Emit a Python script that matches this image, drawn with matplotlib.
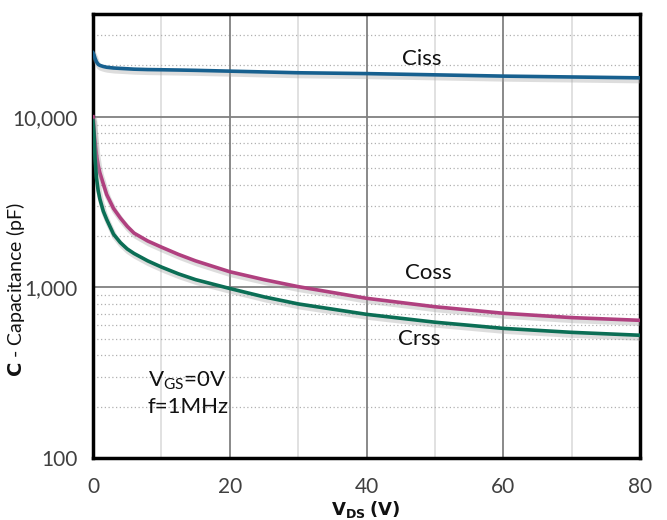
import matplotlib
matplotlib.use("Agg")
import matplotlib.pyplot as plt
import matplotlib.patheffects as pe
from matplotlib.ticker import FixedLocator, NullFormatter

vds = [0, 0.15, 0.3, 0.5, 0.75, 1, 1.5, 2, 3, 4, 5, 6, 8, 10, 12.5, 15,
       20, 25, 30, 40, 50, 60, 70, 80]
ciss = [23700, 23000, 22000, 21000, 20300, 20000, 19700, 19500, 19300, 19200,
        19100, 19000, 18900, 18850, 18780, 18700, 18500, 18300, 18100, 17900,
        17600, 17300, 17100, 16900]
coss = [10000, 8200, 7100, 6000, 5200, 4700, 4050, 3500, 2900, 2550,
        2280, 2080, 1870, 1722, 1560, 1430, 1235, 1110, 1010, 863,
        770, 705, 665, 641]
crss = [9500, 8000, 5700, 4400, 3700, 3300, 2800, 2500, 2050, 1830,
        1680, 1580, 1430, 1316, 1200, 1110, 985, 880, 800, 695,
        625, 575, 545, 524]

xticks = [0, 20, 40, 60, 80]
yticks = [100, 1000, 10000]
ytick_labels = ["100", "1,000", "10,000"]

plt.rcParams['font.family'] = ['Lato', 'DejaVu Sans']

fig = plt.figure(figsize=(6.67, 5.2), dpi=100)
ax = fig.add_axes([93/667, 1-458/520, (640-93)/667, (458-14)/520])
ax.set_yscale('log')
ax.set_xlim(0, 80)
ax.set_ylim(100, 40000)

# grid
for x in [10, 30, 50, 70]:
    ax.axvline(x, color='#dcdcdc', lw=1.2, zorder=0)
for x in [20, 40, 60]:
    ax.axvline(x, color='#808080', lw=1.3, zorder=0.5)
for dec in [100, 1000, 10000]:
    for m in range(2, 10):
        v = dec * m
        if v < 40000:
            ax.axhline(v, color='#b0b0b0', lw=0.9, ls=(0, (1, 2)), zorder=0)
for y in [1000, 10000]:
    ax.axhline(y, color='#808080', lw=1.3, zorder=0.5)

shadow = [pe.SimpleLineShadow(offset=(1, -2), shadow_color='#a0a0a0', alpha=0.35, linewidth=4),
          pe.Normal()]
ax.plot(vds, ciss, color='#17608f', lw=2.6, path_effects=shadow, zorder=3)
ax.plot(vds, coss, color='#b0407f', lw=2.6, path_effects=shadow, zorder=3)
ax.plot(vds, crss, color='#0b6e55', lw=2.6, path_effects=shadow, zorder=3)

fs = 16
ax.text(48.1, 21800, "Ciss", fontsize=fs, ha='center', va='center', color='#111111')
ax.text(49.0, 1220, "Coss", fontsize=fs, ha='center', va='center', color='#111111')
ax.text(47.7, 500, "Crss", fontsize=fs, ha='center', va='center', color='#111111')
ax.text(8.0, 282, r"V$_{\mathregular{GS}}$=0V", fontsize=fs, ha='left', va='center', color='#111111')
ax.text(8.0, 198, "f=1MHz", fontsize=fs, ha='left', va='center', color='#111111')

ax.xaxis.set_major_locator(FixedLocator(xticks))
ax.set_xticklabels([str(t) for t in xticks])
ax.yaxis.set_major_locator(FixedLocator(yticks))
ax.yaxis.set_minor_locator(FixedLocator([]))
ax.yaxis.set_minor_formatter(NullFormatter())
ax.set_yticklabels(ytick_labels)
ax.tick_params(axis='both', length=0, labelsize=15, labelcolor='#404040')
ax.tick_params(axis='x', pad=14)
ax.tick_params(axis='y', pad=11)

for s in ax.spines.values():
    s.set_linewidth(2.5)
    s.set_color('black')

fig.text(16/667, 1-290/520, r"$\mathbf{C}$ - Capacitance (pF)", rotation=90,
         ha='center', va='center', fontsize=14, color='#111111')
fig.text(366/667, 1-510/520, r"$\mathbf{V_{DS}}$ $\mathbf{(V)}$", ha='center', va='center',
         fontsize=13, color='#111111')

fig.savefig("out.png", dpi=100)
